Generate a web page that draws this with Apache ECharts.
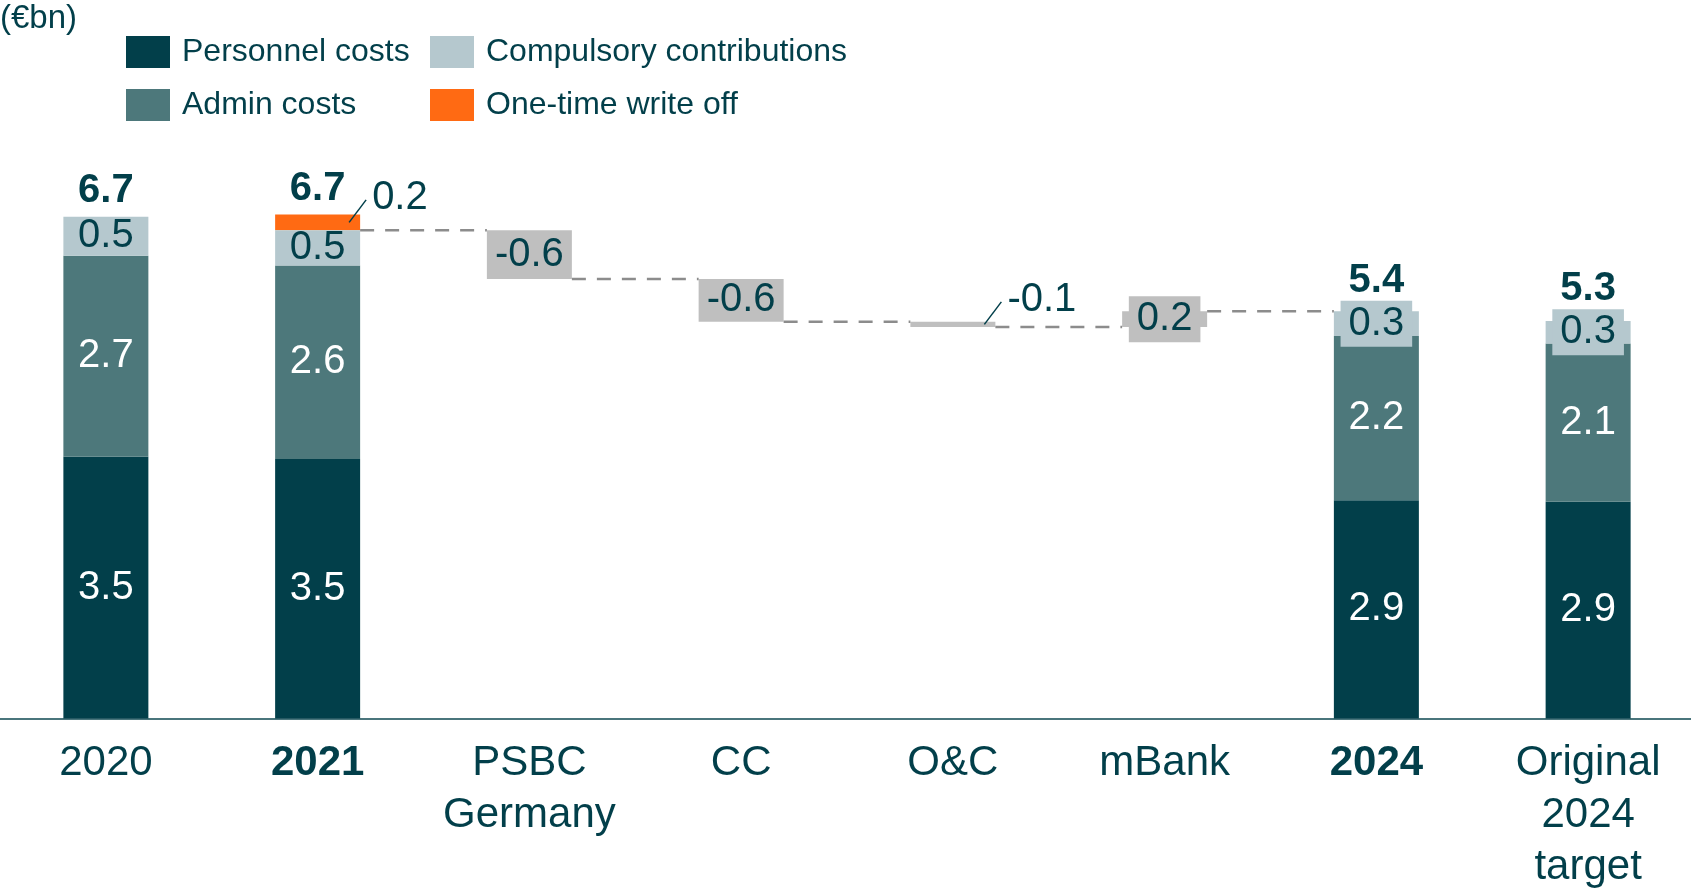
<!DOCTYPE html>
<html>
<head>
<meta charset="utf-8">
<script src="https://cdn.jsdelivr.net/npm/echarts@6/dist/echarts.min.js"></script>
<style>
  html, body { margin: 0; padding: 0; background: #ffffff; }
  #chart { width: 1691px; height: 889px; }
</style>
</head>
<body>
<div id="chart"></div>
<script>
// ---------- data ----------
const categories = ['2020', '2021', 'PSBC\nGermany', 'CC', 'O&C', 'mBank', '2024', 'Original\n2024\ntarget'];
const boldCategories = ['2021', '2024'];

const personnel  = [3.49, 3.46, null, null, null, null, 2.91, 2.89];
const admin      = [2.68, 2.58, null, null, null, null, 2.19, 2.11];
const compulsory = [0.52, 0.47, null, null, null, null, 0.33, 0.30];
const writeOff   = [null, 0.21, null, null, null, null, null, null];
const bridgeDeltas = [null, null, -0.65, -0.57, -0.07, 0.21, null, null];

const personnelLabels  = ['3.5', '3.5', '', '', '', '', '2.9', '2.9'];
const adminLabels      = ['2.7', '2.6', '', '', '', '', '2.2', '2.1'];
const compulsoryLabels = ['0.5', '0.5', '', '', '', '', '0.3', '0.3'];
const writeOffLabels   = ['', '0.2', '', '', '', '', '', ''];
const bridgeLabels     = ['', '', '-0.6', '-0.6', '-0.1', '0.2', '', ''];
const totalLabels      = ['6.7', '6.7', '', '', '', '', '5.4', '5.3'];

// segments whose label sits outside with a leader line
const calloutWriteOff = [1];
const calloutBridge = [4];

// ---------- styles ----------
const FONT = '"Liberation Sans", Arial, Helvetica, sans-serif';
const TEAL = '#023F4A';
const ADMIN = '#4D787B';
const COMP = '#B5C8CE';
const ORANGE = '#FF6A13';
const GREY = '#BFBFBF';
const DASH = '#8C8C8C';
const BAR_W = 85;

// ---------- derived waterfall ----------
const n = categories.length;
const bridgeBase = new Array(n).fill(null);
const bridgeHeight = new Array(n).fill(null);
const connectorLevels = new Array(n).fill(null);
let running = personnel[1] + admin[1] + compulsory[1];
connectorLevels[1] = running;
for (let i = 0; i < n; i++) {
  const d = bridgeDeltas[i];
  if (d == null) continue;
  if (d < 0) { bridgeBase[i] = running + d; bridgeHeight[i] = -d; }
  else { bridgeBase[i] = running; bridgeHeight[i] = d; }
  running += d;
  connectorLevels[i] = running;
}
const stackTop = categories.map((c, i) =>
  (personnel[i] || 0) + (admin[i] || 0) + (compulsory[i] || 0) + (writeOff[i] || 0));

function baseLabel(arr, color) {
  return {
    show: true, position: 'inside', color: color,
    fontSize: 40, fontFamily: FONT, lineHeight: 40,
    formatter: p => arr[p.dataIndex] || ''
  };
}
function itemsWithBg(values, labels, bgColor, callouts) {
  return values.map((v, i) => {
    if (v == null) return '-';
    const item = { value: v };
    if (callouts && callouts.indexOf(i) >= 0) {
      item.label = { show: false };
    } else if (Math.abs(v) < 0.35 && labels[i]) {
      item.label = { backgroundColor: bgColor, padding: [3, 8] };
    }
    return item;
  });
}
const hasBg = i => compulsory[i] != null && compulsory[i] < 0.35;

const chart = echarts.init(document.getElementById('chart'), null, { renderer: 'canvas' });

const legendCommon = {
  orient: 'vertical', top: 36, padding: 0,
  itemWidth: 44, itemHeight: 32, itemGap: 21,
  icon: 'rect', selectedMode: false,
  textStyle: { fontSize: 32, color: TEAL, fontFamily: FONT, padding: [0, 0, 0, 7] }
};

const option = {
  animation: false,
  backgroundColor: '#ffffff',
  textStyle: { fontFamily: FONT },
  grid: { left: 0, right: -3, top: 6, bottom: 170.5, containLabel: false, outerBoundsMode: 'none' },
  graphic: [{
    type: 'text', left: 0, top: 2,
    style: { text: '(€bn)', fontSize: 33, fontFamily: FONT, fill: TEAL }
  }],
  legend: [
    Object.assign({}, legendCommon, { left: 126, data: ['Personnel costs', 'Admin costs'] }),
    Object.assign({}, legendCommon, { left: 430, data: ['Compulsory contributions', 'One-time write off'] })
  ],
  xAxis: {
    type: 'category', data: categories,
    axisLine: { show: true, lineStyle: { color: '#4A757C', width: 2 } },
    axisTick: { show: false },
    axisLabel: {
      interval: 0, fontSize: 42, lineHeight: 52, color: TEAL, fontFamily: FONT, margin: 19,
      formatter: v => boldCategories.indexOf(v) >= 0 ? '{b|' + v + '}' : v,
      rich: { b: { fontWeight: 'bold', fontSize: 42, lineHeight: 52, color: TEAL, fontFamily: FONT } }
    }
  },
  yAxis: { type: 'value', min: 0, max: 9.5, show: false, splitLine: { show: false } },
  series: [
    {
      name: 'base', type: 'bar', stack: 'a', barWidth: BAR_W, silent: true,
      itemStyle: { color: 'transparent' }, data: bridgeBase.map(v => v == null ? '-' : v)
    },
    {
      name: 'Personnel costs', type: 'bar', stack: 'a', barWidth: BAR_W,
      itemStyle: { color: TEAL }, label: baseLabel(personnelLabels, '#ffffff'),
      data: personnel.map(v => v == null ? '-' : v)
    },
    {
      name: 'Admin costs', type: 'bar', stack: 'a', barWidth: BAR_W,
      itemStyle: { color: ADMIN }, label: baseLabel(adminLabels, '#ffffff'),
      data: admin.map(v => v == null ? '-' : v)
    },
    {
      name: 'Compulsory contributions', type: 'bar', stack: 'a', barWidth: BAR_W, z: 3,
      itemStyle: { color: COMP }, label: baseLabel(compulsoryLabels, TEAL),
      data: itemsWithBg(compulsory, compulsoryLabels, COMP, null)
    },
    {
      name: 'One-time write off', type: 'bar', stack: 'a', barWidth: BAR_W,
      itemStyle: { color: ORANGE }, label: baseLabel(writeOffLabels, TEAL),
      data: itemsWithBg(writeOff, writeOffLabels, ORANGE, calloutWriteOff)
    },
    {
      name: 'bridge', type: 'bar', stack: 'a', barWidth: BAR_W, z: 3,
      itemStyle: { color: GREY }, label: baseLabel(bridgeLabels, TEAL),
      data: itemsWithBg(bridgeHeight, bridgeLabels, GREY, calloutBridge)
    },
    {
      name: 'overlay', type: 'custom', z: 5, silent: true,
      encode: { x: 0, y: 1 },
      data: categories.map((c, i) => [i, 0]),
      renderItem: function (params, api) {
        const i = api.value(0);
        const half = BAR_W / 2;
        const children = [];
        // dashed connector to the next bar
        if (connectorLevels[i] != null && i + 1 < n) {
          const p1 = api.coord([i, connectorLevels[i]]);
          const p2 = api.coord([i + 1, connectorLevels[i]]);
          children.push({
            type: 'line',
            shape: { x1: p1[0] + half, y1: p1[1], x2: p2[0] - half, y2: p1[1] },
            style: { stroke: DASH, lineWidth: 2.5, lineDash: [14, 11] }
          });
        }
        // totals
        if (totalLabels[i]) {
          const top = api.coord([i, stackTop[i]]);
          let offset = 26;
          if (hasBg(i)) {
            const segTopY = api.coord([i, stackTop[i] - (writeOff[i] || 0)])[1];
            const segBotY = api.coord([i, stackTop[i] - (writeOff[i] || 0) - compulsory[i]])[1];
            offset = Math.max(26, (46 - (segBotY - segTopY)) / 2 + 20);
          }
          children.push({
            type: 'text',
            style: {
              text: totalLabels[i], x: top[0], y: top[1] - offset,
              align: 'center', verticalAlign: 'middle',
              fontSize: 40, fontWeight: 'bold', fontFamily: FONT, fill: TEAL
            }
          });
        }
        // callouts with leader lines
        const callout = (lo, hi, text) => {
          const pLo = api.coord([i, lo]);
          const pHi = api.coord([i, hi]);
          const right = pLo[0] + half;
          const midY = (pLo[1] + pHi[1]) / 2;
          children.push({
            type: 'line',
            shape: { x1: right - 11, y1: midY, x2: right + 6, y2: midY - 22.5 },
            style: { stroke: TEAL, lineWidth: 1.5 }
          });
          children.push({
            type: 'text',
            style: {
              text: text, x: right + 12, y: midY - 24.5,
              align: 'left', verticalAlign: 'middle',
              fontSize: 40, fontFamily: FONT, fill: TEAL
            }
          });
        };
        if (calloutWriteOff.indexOf(i) >= 0) {
          const lo = stackTop[i] - writeOff[i];
          callout(lo, stackTop[i], writeOffLabels[i]);
        }
        if (calloutBridge.indexOf(i) >= 0) {
          callout(bridgeBase[i], bridgeBase[i] + bridgeHeight[i], bridgeLabels[i]);
        }
        return { type: 'group', children: children };
      }
    }
  ]
};
chart.setOption(option);
</script>
</body>
</html>
